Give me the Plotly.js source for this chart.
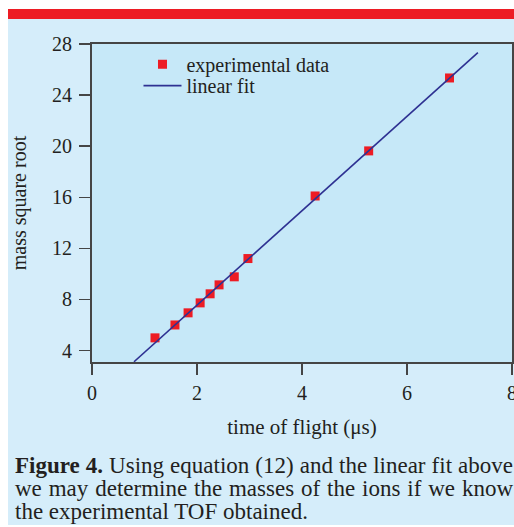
<!DOCTYPE html>
<html>
<head>
<meta charset="utf-8">
<script src="https://cdn.plot.ly/plotly-3.0.1.min.js"></script>
<style>
  html, body { margin: 0; padding: 0; background: #ffffff; width: 514px; height: 527px; overflow: hidden; }
  #bg { position: absolute; left: 8px; top: 9px; width: 506px; height: 516px; background: #d5edfa; }
  #bar { position: absolute; left: 8px; top: 9px; width: 506px; height: 10px; background: #ed1c24; }
  #plot { position: absolute; left: 0; top: 0; width: 514px; height: 527px; }
  #caption { position: absolute; left: 15px; top: 454px; width: 498px;
             font-family: "Liberation Serif", serif; font-size: 23px; line-height: 23px; color: #231f20; }
  #caption div { white-space: nowrap; }
  #caption .j { text-align: justify; text-align-last: justify; white-space: normal; }
</style>
</head>
<body>
<div id="bg"></div>
<div id="bar"></div>
<div id="plot"></div>
<div id="caption">
  <div class="j"><b>Figure 4.</b> Using equation (12) and the linear fit above</div>
  <div class="j">we may determine the masses of the ions if we know</div>
  <div>the experimental TOF obtained.</div>
</div>
<script>
// time of flight (µs) and square root of mass
var tofData = [1.20, 1.58, 1.83, 2.06, 2.25, 2.42, 2.71, 2.97, 4.25, 5.27, 6.81];
var massRootData = [4.99, 6.00, 6.95, 7.73, 8.44, 9.14, 9.77, 11.20, 16.10, 19.63, 25.34];
// linear fit end points
var fitX = [0.80, 7.35];
var fitY = [3.12, 27.32];
var xTicks = [0, 2, 4, 6, 8];
var yTicks = [4, 8, 12, 16, 20, 24, 28];

var font = "Liberation Serif, Times New Roman, serif";
var txt = "#231f20";
var axCol = "#454545";

var traces = [
  {x: tofData, y: massRootData, type: "scatter", mode: "markers", name: "experimental data",
   marker: {symbol: "square", size: 9, color: "#ed1c24"}, legend: "legend"},
  {x: fitX, y: fitY, type: "scatter", mode: "lines", name: "linear fit",
   line: {color: "#2e3192", width: 1.6}, legend: "legend2"}
];

var legFont = {family: font, size: 20, color: txt};
var layout = {
  width: 514, height: 527,
  margin: {l: 92, r: 1.5, t: 44.3, b: 164.7, pad: 0},
  paper_bgcolor: "rgba(0,0,0,0)",
  plot_bgcolor: "#c6e8f8",
  font: {family: font, size: 20, color: txt},
  showlegend: true,
  legend: {x: 0.1107, y: 0.936, xanchor: "left", yanchor: "middle", bgcolor: "rgba(0,0,0,0)", font: legFont, itemwidth: 38},
  legend2: {x: 0.1107, y: 0.869, xanchor: "left", yanchor: "middle", bgcolor: "rgba(0,0,0,0)", font: legFont, itemwidth: 38},
  xaxis: {range: [0, 8], tickvals: xTicks, ticktext: xTicks.map(String), ticks: "outside", ticklen: 11,
          tickwidth: 1.5, tickcolor: axCol, showline: true, linecolor: axCol, linewidth: 2, mirror: true,
          showgrid: false, zeroline: false, ticklabelstandoff: 1, ticklabeloverflow: "allow",
          tickfont: {family: font, size: 20, color: txt},
          title: {text: "time of flight (\u03bcs)", font: {family: font, size: 21, color: txt}, standoff: 16}},
  yaxis: {range: [3.1, 28], tickvals: yTicks, ticktext: yTicks.map(String), ticks: "outside", ticklen: 11,
          tickwidth: 1.5, tickcolor: axCol, showline: true, linecolor: axCol, linewidth: 2, mirror: true,
          showgrid: false, zeroline: false, ticklabelstandoff: 3,
          tickfont: {family: font, size: 20, color: txt},
          title: {text: "mass square root", font: {family: font, size: 20, color: txt}, standoff: 20}}
};

Plotly.newPlot("plot", traces, layout, {displayModeBar: false, staticPlot: true});
</script>
</body>
</html>
